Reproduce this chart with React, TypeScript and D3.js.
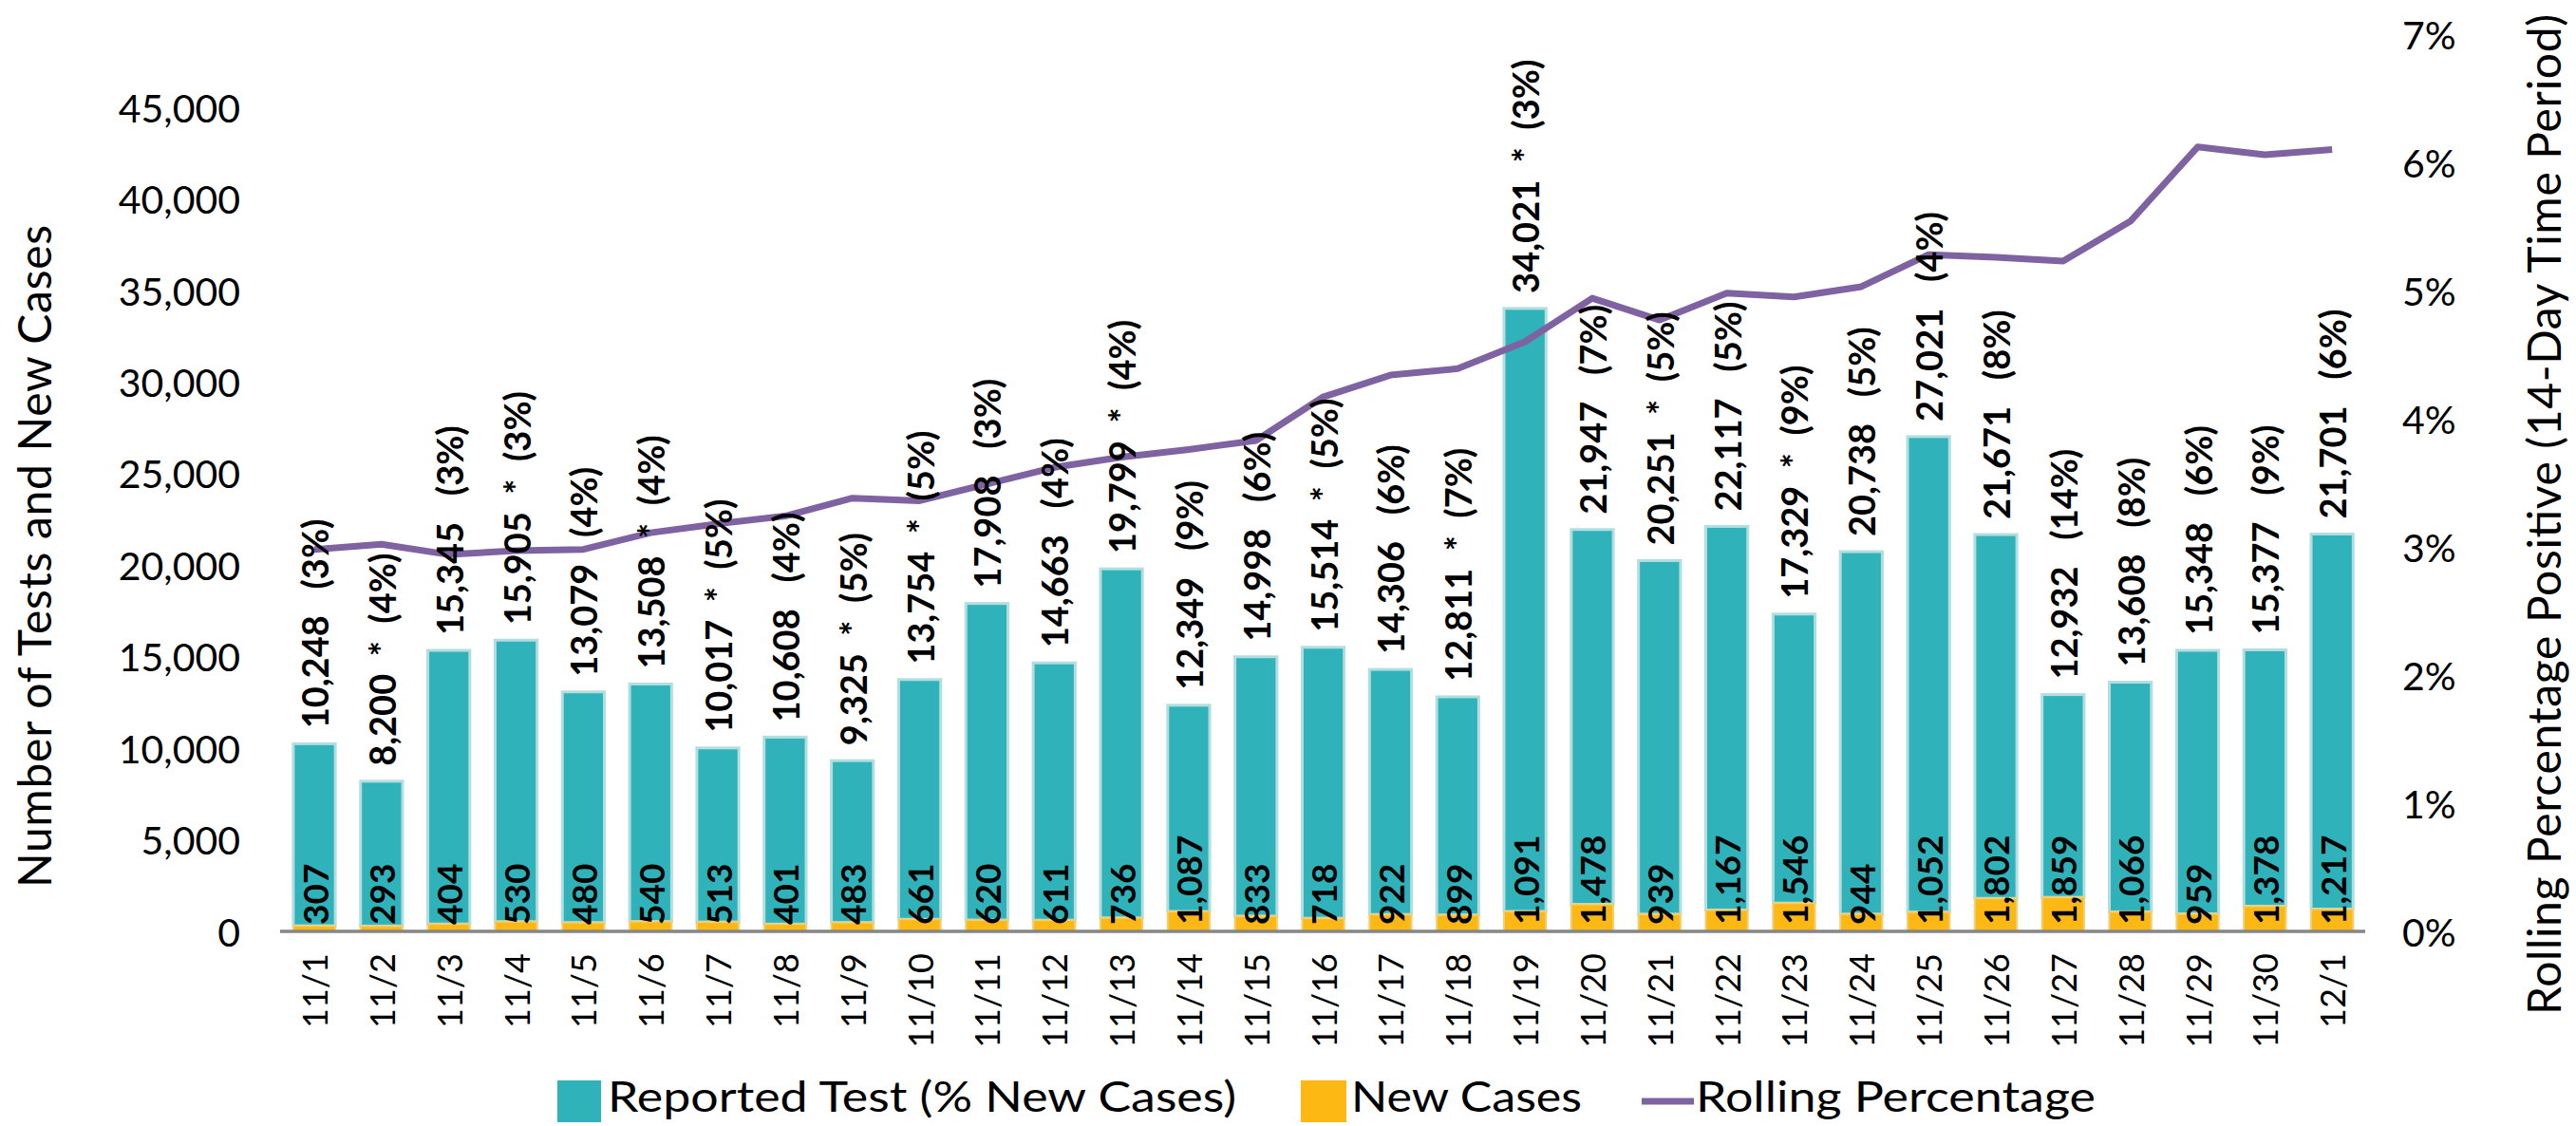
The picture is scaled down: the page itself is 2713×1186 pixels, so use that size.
import React from "react";
import * as d3 from "d3";

// data
const dates = [
  "11/1", "11/2", "11/3", "11/4", "11/5", "11/6", "11/7", "11/8", "11/9", "11/10",
  "11/11", "11/12", "11/13", "11/14", "11/15", "11/16", "11/17", "11/18", "11/19", "11/20",
  "11/21", "11/22", "11/23", "11/24", "11/25", "11/26", "11/27", "11/28", "11/29", "11/30", "12/1",
];
const reportedTests = [
  10248, 8200, 15345, 15905, 13079, 13508, 10017, 10608, 9325, 13754,
  17908, 14663, 19799, 12349, 14998, 15514, 14306, 12811, 34021, 21947,
  20251, 22117, 17329, 20738, 27021, 21671, 12932, 13608, 15348, 15377, 21701,
];
const newCases = [
  307, 293, 404, 530, 480, 540, 513, 401, 483, 661,
  620, 611, 736, 1087, 833, 718, 922, 899, 1091, 1478,
  939, 1167, 1546, 944, 1052, 1802, 1859, 1066, 959, 1378, 1217,
];
const starred = [
  false, true, false, true, false, true, true, false, true, true,
  false, false, true, false, false, true, false, true, true, false,
  true, false, true, false, false, false, false, false, false, false, false,
];
const rollingPct = [
  2.98, 3.02, 2.94, 2.97, 2.98, 3.11, 3.18, 3.24, 3.38, 3.36,
  3.49, 3.62, 3.70, 3.76, 3.83, 4.17, 4.34, 4.39, 4.60, 4.94,
  4.77, 4.98, 4.95, 5.03, 5.28, 5.26, 5.23, 5.54, 6.12, 6.06, 6.10,
];
const leftTicks = [0, 5000, 10000, 15000, 20000, 25000, 30000, 35000, 40000, 45000];
const rightTicks = [0, 1, 2, 3, 4, 5, 6, 7];

const W = 2713;
const H = 1186;
const FONT = "Lato, 'Open Sans', sans-serif";
const TEAL = "#2FB2B9";
const GOLD = "#FDB813";
const PURPLE = "#7F62A1";

export default function App() {
  const x = d3.scaleBand().domain(dates).range([295.6, 2491.6]).paddingInner(0.375).paddingOuter(0.1875);
  const y = d3.scaleLinear().domain([0, 49000]).range([981, 36]);
  const yR = d3.scaleLinear().domain([0, 7]).range([981, 36]);
  const bw = x.bandwidth();
  const cx = (d: string) => (x(d) as number) + bw / 2;
  const fmt = d3.format(",");

  const line = d3
    .line<number>()
    .x((_, i) => cx(dates[i]))
    .y((v) => yR(v));

  const topLabel = (i: number) => {
    const pct = Math.round((newCases[i] / reportedTests[i]) * 100);
    const sep = starred[i] ? "  *  " : "   ";
    return `${fmt(reportedTests[i])}${sep}(${pct}%)`;
  };

  return (
    <svg
      width={W}
      height={H}
      style={{ position: "absolute", left: 0, top: 0, display: "block", background: "#fff" }}
      fontFamily={FONT}
    >
      {/* bars */}
      {dates.map((d, i) => (
        <g key={d}>
          <rect
            x={x(d)}
            y={y(reportedTests[i])}
            width={bw}
            height={y(newCases[i]) - y(reportedTests[i])}
            fill={TEAL}
            stroke="#B2DEE0"
            strokeWidth={3}
          />
          <rect
            x={x(d)}
            y={y(newCases[i])}
            width={bw}
            height={y(0) - y(newCases[i])}
            fill={GOLD}
            stroke="#EFCF78"
            strokeWidth={2}
          />
        </g>
      ))}

      {/* x axis */}
      <line x1={295} x2={2491} y1={y(0)} y2={y(0)} stroke="#868686" strokeWidth={3.5} />
      {dates.map((d) => (
        <text
          key={d}
          transform={`translate(${cx(d)},1004) rotate(-90)`}
          textAnchor="end"
          dominantBaseline="central"
          fontSize={36}
          fill="#000"
        >
          {d}
        </text>
      ))}

      {/* left axis */}
      {leftTicks.map((t) => (
        <text key={t} x={253} y={y(t)} textAnchor="end" dominantBaseline="central" fontSize={41} fill="#000">
          {fmt(t)}
        </text>
      ))}
      <text
        transform="translate(35,586) rotate(-90)"
        textAnchor="middle"
        dominantBaseline="central"
        fontSize={48}
        textLength={698}
        lengthAdjust="spacing"
        fill="#000"
      >
        Number of Tests and New Cases
      </text>

      {/* right axis */}
      {rightTicks.map((t) => (
        <text key={t} x={2530} y={yR(t)} textAnchor="start" dominantBaseline="central" fontSize={41} fill="#000">
          {t}%
        </text>
      ))}
      <text
        transform="translate(2678,542) rotate(-90)"
        textAnchor="middle"
        dominantBaseline="central"
        fontSize={48}
        textLength={1054}
        lengthAdjust="spacing"
        fill="#000"
      >
        Rolling Percentage Positive (14-Day Time Period)
      </text>

      {/* rolling line */}
      <path d={line(rollingPct) || ""} fill="none" stroke={PURPLE} strokeWidth={7} strokeLinejoin="round" />

      {/* data labels */}
      {dates.map((d, i) => (
        <g key={d} fontWeight={700} fill="#000">
          <text
            transform={`translate(${cx(d)},${y(reportedTests[i]) - 16}) rotate(-90)`}
            dominantBaseline="central"
            fontSize={38}
            style={{ whiteSpace: "pre" }}
          >
            {topLabel(i)}
          </text>
          <text
            transform={`translate(${cx(d)},${y(0) - 7}) rotate(-90)`}
            dominantBaseline="central"
            fontSize={37}
          >
            {fmt(newCases[i])}
          </text>
        </g>
      ))}

      {/* legend */}
      <g fontSize={44} fill="#000">
        <rect x={587} y={1138} width={46} height={44} fill={TEAL} />
        <text x={640} y={1171} textLength={662} lengthAdjust="spacingAndGlyphs">
          Reported Test (% New Cases)
        </text>
        <rect x={1370} y={1138} width={48} height={44} fill={GOLD} />
        <text x={1423} y={1171} textLength={243} lengthAdjust="spacingAndGlyphs">
          New Cases
        </text>
        <line x1={1729} x2={1784} y1={1160} y2={1160} stroke={PURPLE} strokeWidth={7} />
        <text x={1786} y={1171} textLength={421} lengthAdjust="spacingAndGlyphs">
          Rolling Percentage
        </text>
      </g>
    </svg>
  );
}
